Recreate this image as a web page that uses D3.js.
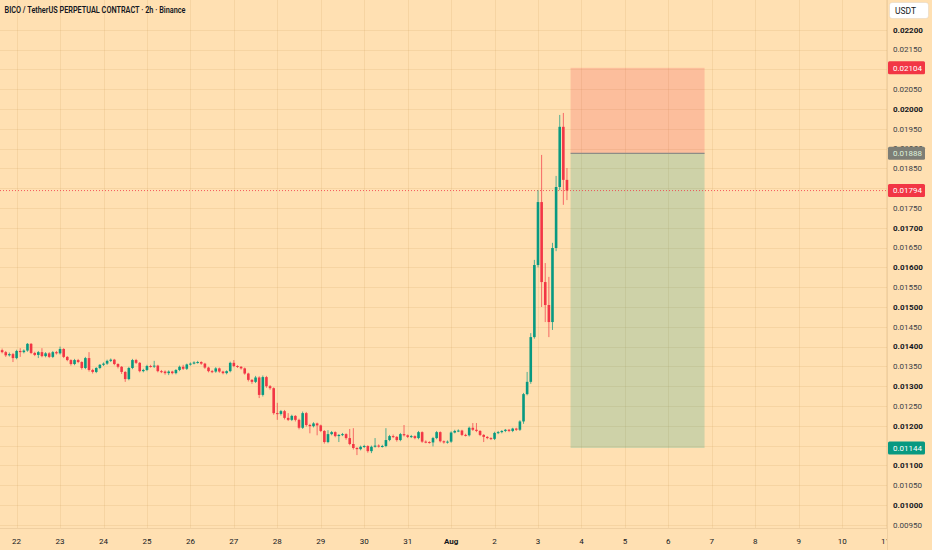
<!DOCTYPE html>
<html>
<head>
<meta charset="utf-8">
<script src="https://cdn.jsdelivr.net/npm/d3@7"></script>
<style>
  html, body { margin: 0; padding: 0; background: #ffe0b2; overflow: hidden; }
  svg { display: block; font-family: Roboto, "Liberation Sans", sans-serif; }
</style>
</head>
<body>
<div id="chart"></div>
<script>
// 2h candles, first bar opens Jul 21 16:00 UTC
var firstTime = Date.UTC(2024, 6, 21, 16);
var barHours = 2;
var firstOpen = 0.01391;

var closes = [
  0.01386,0.01378,0.01381,0.01371,0.01389,0.01386,0.01390,0.01407,0.01384,0.01379,
  0.01386,0.01376,0.01383,0.01374,0.01386,0.01383,0.01394,0.01374,0.01366,0.01356,
  0.01366,0.01361,0.01346,0.01371,0.01341,0.01336,0.01346,0.01354,0.01357,0.01364,
  0.01367,0.01356,0.01349,0.01336,0.01318,0.01346,0.01366,0.01359,0.01338,0.01341,
  0.01351,0.01350,0.01352,0.01338,0.01337,0.01333,0.01337,0.01333,0.01341,0.01349,
  0.01344,0.01355,0.01357,0.01360,0.01361,0.01357,0.01347,0.01338,0.01337,0.01345,
  0.01337,0.01333,0.01338,0.01359,0.01351,0.01349,0.01345,0.01332,0.01316,0.01311,
  0.01322,0.01278,0.01323,0.01300,0.01295,0.01232,0.01230,0.01237,0.01220,0.01215,
  0.01225,0.01215,0.01195,0.01232,0.01202,0.01199,0.01206,0.01201,0.01187,0.01159,
  0.01179,0.01184,0.01174,0.01177,0.01179,0.01169,0.01154,0.01144,0.01141,0.01147,
  0.01149,0.01136,0.01147,0.01150,0.01148,0.01149,0.01164,0.01174,0.01172,0.01164,
  0.01179,0.01176,0.01172,0.01174,0.01169,0.01184,0.01160,0.01159,0.01158,0.01169,
  0.01184,0.01161,0.01158,0.01160,0.01183,0.01187,0.01188,0.01177,0.01176,0.01195,
  0.01190,0.01187,0.01177,0.01172,0.01169,0.01167,0.01182,0.01184,0.01187,0.01190,
  0.01187,0.01193,0.01190,0.01211,0.01280,0.01311,0.01424,0.01606,0.01765,0.01563,
  0.01505,0.01462,0.01649,0.01803,0.01955,0.01821,0.01794
];

var highs = [
  0.01395,0.01389,0.01385,0.01384,0.01392,0.01396,0.01393,0.01409,0.01409,0.01387,
  0.01389,0.01396,0.01386,0.01386,0.01389,0.01389,0.01400,0.01396,0.01376,0.01368,
  0.01369,0.01369,0.01363,0.01374,0.01386,0.01344,0.01348,0.01356,0.01360,0.01367,
  0.01370,0.01369,0.01358,0.01351,0.01338,0.01349,0.01369,0.01369,0.01361,0.01344,
  0.01354,0.01354,0.01364,0.01354,0.01341,0.01340,0.01340,0.01339,0.01343,0.01352,
  0.01354,0.01357,0.01360,0.01363,0.01364,0.01363,0.01359,0.01349,0.01341,0.01348,
  0.01347,0.01339,0.01340,0.01362,0.01366,0.01353,0.01351,0.01347,0.01334,0.01318,
  0.01326,0.01325,0.01327,0.01326,0.01303,0.01297,0.01258,0.01240,0.01240,0.01232,
  0.01228,0.01227,0.01218,0.01236,0.01235,0.01205,0.01209,0.01208,0.01203,0.01189,
  0.01189,0.01187,0.01186,0.01179,0.01182,0.01181,0.01192,0.01194,0.01146,0.01150,
  0.01152,0.01151,0.01150,0.01169,0.01153,0.01152,0.01194,0.01177,0.01178,0.01174,
  0.01182,0.01202,0.01178,0.01177,0.01176,0.01187,0.01186,0.01163,0.01161,0.01172,
  0.01187,0.01186,0.01163,0.01163,0.01186,0.01190,0.01191,0.01190,0.01180,0.01198,
  0.01207,0.01207,0.01189,0.01179,0.01174,0.01171,0.01185,0.01187,0.01189,0.01192,
  0.01192,0.01195,0.01195,0.01214,0.01283,0.01336,0.01434,0.01619,0.01795,0.01884,
  0.01611,0.01576,0.01662,0.01831,0.01985,0.01990,0.01851
];

var lows = [
  0.01383,0.01374,0.01375,0.01361,0.01368,0.01374,0.01383,0.01387,0.01381,0.01376,
  0.01371,0.01373,0.01373,0.01371,0.01371,0.01380,0.01380,0.01371,0.01363,0.01352,
  0.01353,0.01358,0.01342,0.01343,0.01337,0.01332,0.01333,0.01343,0.01351,0.01354,
  0.01361,0.01353,0.01345,0.01331,0.01311,0.01315,0.01343,0.01356,0.01335,0.01335,
  0.01338,0.01347,0.01346,0.01335,0.01333,0.01329,0.01328,0.01330,0.01330,0.01338,
  0.01341,0.01341,0.01352,0.01355,0.01357,0.01354,0.01344,0.01335,0.01333,0.01334,
  0.01334,0.01330,0.01330,0.01335,0.01348,0.01346,0.01342,0.01329,0.01312,0.01306,
  0.01308,0.01270,0.01274,0.01296,0.01291,0.01228,0.01215,0.01226,0.01216,0.01212,
  0.01212,0.01211,0.01191,0.01192,0.01198,0.01181,0.01196,0.01176,0.01184,0.01155,
  0.01156,0.01176,0.01171,0.01159,0.01174,0.01165,0.01151,0.01140,0.01126,0.01138,
  0.01144,0.01132,0.01131,0.01145,0.01145,0.01145,0.01146,0.01161,0.01169,0.01160,
  0.01161,0.01173,0.01169,0.01169,0.01166,0.01166,0.01157,0.01156,0.01155,0.01148,
  0.01166,0.01158,0.01155,0.01155,0.01157,0.01181,0.01184,0.01174,0.01173,0.01173,
  0.01187,0.01184,0.01174,0.01159,0.01166,0.01164,0.01164,0.01179,0.01181,0.01184,
  0.01184,0.01184,0.01187,0.01187,0.01205,0.01277,0.01306,0.01420,0.01600,0.01500,
  0.01462,0.01424,0.01442,0.01641,0.01795,0.01758,0.01770
];

var priceTicks = [0.0095,0.0100,0.0105,0.0110,0.0115,0.0120,0.0125,0.0130,0.0135,
  0.0140,0.0145,0.0150,0.0155,0.0160,0.0165,0.0170,0.0175,0.0180,0.0185,0.0190,
  0.0195,0.0200,0.0205,0.0210,0.0215,0.0220];
var dayLabels = ["22","23","24","25","26","27","28","29","30","31","Aug",
  "2","3","4","5","6","7","8","9","10","11"];

// long/short position tool
var stopLoss = 0.02104, entry = 0.01888, takeProfit = 0.01144, lastPrice = 0.01794;
var posStart = Date.UTC(2024, 7, 3, 18), posEnd = Date.UTC(2024, 7, 6, 20);

var title = "BICO / TetherUS PERPETUAL CONTRACT \u00b7 2h \u00b7 Binance";

var W = 932, H = 550, plotRight = 887, timeTop = 528;
var upColor = "#089981", downColor = "#f23645";
var gridColor = "rgba(200,150,80,0.16)";

var candles = closes.map(function(c, i) {
  return {
    t: new Date(firstTime + i * barHours * 3600e3),
    o: i === 0 ? firstOpen : closes[i - 1],
    h: highs[i], l: lows[i], c: c
  };
});

var x = d3.scaleUtc()
  .domain([new Date(Date.UTC(2024, 6, 22)), new Date(Date.UTC(2024, 7, 3))])
  .range([16.6, 538]);
var y = d3.scaleLinear().domain([0.0095, 0.022]).range([524.8, 29.8]);
var days = d3.utcDay.range(new Date(Date.UTC(2024, 6, 22)), new Date(Date.UTC(2024, 7, 12)));

var svg = d3.select("#chart").append("svg").attr("width", W).attr("height", H);
svg.append("rect").attr("width", W).attr("height", H).attr("fill", "#ffe0b2");

svg.append("clipPath").attr("id", "plotClip")
  .append("rect").attr("width", plotRight).attr("height", timeTop);
svg.append("clipPath").attr("id", "plotClip2")
  .append("rect").attr("width", plotRight).attr("height", H);

// grid
var grid = svg.append("g").attr("clip-path", "url(#plotClip)");
grid.selectAll(".hg").data(priceTicks).enter().append("line")
  .attr("x1", 0).attr("x2", plotRight)
  .attr("y1", function(d) { return Math.round(y(d)) + 0.5; })
  .attr("y2", function(d) { return Math.round(y(d)) + 0.5; })
  .attr("stroke", gridColor);
grid.selectAll(".vg").data(days).enter().append("line")
  .attr("x1", function(d) { return Math.round(x(d)) + 0.5; })
  .attr("x2", function(d) { return Math.round(x(d)) + 0.5; })
  .attr("y1", 0).attr("y2", timeTop)
  .attr("stroke", gridColor);

// position zones
var plot = svg.append("g").attr("clip-path", "url(#plotClip)");
plot.append("rect")
  .attr("x", x(posStart)).attr("width", x(posEnd) - x(posStart))
  .attr("y", y(stopLoss)).attr("height", y(entry) - y(stopLoss))
  .attr("fill", "rgba(242,54,69,0.2)");
plot.append("rect")
  .attr("x", x(posStart)).attr("width", x(posEnd) - x(posStart))
  .attr("y", y(entry)).attr("height", y(takeProfit) - y(entry))
  .attr("fill", "rgba(8,153,129,0.2)");
plot.append("line")
  .attr("x1", x(posStart)).attr("x2", x(posEnd))
  .attr("y1", y(entry)).attr("y2", y(entry))
  .attr("stroke", "#8d8d86").attr("stroke-width", 1.2);

// last price dotted line
plot.append("line")
  .attr("x1", 0).attr("x2", plotRight)
  .attr("y1", y(lastPrice)).attr("y2", y(lastPrice))
  .attr("stroke", downColor).attr("stroke-opacity", 0.8)
  .attr("stroke-dasharray", "1,2");

// candles
var bodyW = 2.6;
var bars = plot.selectAll(".candle").data(candles).enter().append("g");
bars.append("line")
  .attr("x1", function(d) { return x(d.t); })
  .attr("x2", function(d) { return x(d.t); })
  .attr("y1", function(d) { return y(d.h); })
  .attr("y2", function(d) { return y(d.l); })
  .attr("stroke", function(d) { return d.c >= d.o ? upColor : downColor; })
  .attr("stroke-opacity", 0.7)
  .attr("stroke-width", 1);
bars.append("rect")
  .attr("x", function(d) { return x(d.t) - bodyW / 2; })
  .attr("width", bodyW)
  .attr("y", function(d) { return y(Math.max(d.o, d.c)); })
  .attr("height", function(d) { return Math.max(1, Math.abs(y(d.o) - y(d.c))); })
  .attr("fill", function(d) { return d.c >= d.o ? upColor : downColor; });

// panel separators
svg.append("line").attr("x1", plotRight + 0.5).attr("x2", plotRight + 0.5)
  .attr("y1", 0).attr("y2", H).attr("stroke", "rgba(120,90,40,0.12)");
svg.append("line").attr("x1", 0).attr("x2", plotRight)
  .attr("y1", timeTop + 0.5).attr("y2", timeTop + 0.5).attr("stroke", "rgba(120,90,40,0.12)");

// price tags
var tags = [
  { v: stopLoss, bg: "#f23645", fg: "#ffffff" },
  { v: entry, bg: "#7d7e76", fg: "#dff2dc" },
  { v: lastPrice, bg: "#f23645", fg: "#ffffff" },
  { v: takeProfit, bg: "#089981", fg: "#ffffff" }
];

// price axis labels (ones fully hidden under a tag are skipped)
var isRound = function(d) { return Math.abs(d * 1000 - Math.round(d * 1000)) < 1e-6; };
var axisTicks = priceTicks.filter(function(d) {
  return !tags.some(function(t) { return Math.abs(y(t.v) - y(d)) < 7; });
});
svg.append("g").selectAll("text").data(axisTicks).enter().append("text")
  .attr("x", 893).attr("y", function(d) { return y(d); })
  .attr("dy", "0.35em")
  .attr("font-size", 8)
  .attr("font-weight", function(d) { return isRound(d) ? 700 : 400; })
  .attr("fill", function(d) { return isRound(d) ? "#131722" : "#3b3e48"; })
  .text(function(d) { return d3.format(".5f")(d); });
// 0.01900 peeks out just above the entry tag
svg.append("clipPath").attr("id", "peekClip")
  .append("rect").attr("x", 888).attr("y", 0).attr("width", 44).attr("height", y(entry) - 6.5);
svg.append("text").attr("clip-path", "url(#peekClip)")
  .attr("x", 893).attr("y", y(0.019)).attr("dy", "0.35em")
  .attr("font-size", 8).attr("font-weight", 700).attr("fill", "#131722")
  .text(d3.format(".5f")(0.019));

var tg = svg.append("g").selectAll("g").data(tags).enter().append("g");
tg.append("rect")
  .attr("x", 888).attr("width", 37)
  .attr("y", function(d) { return y(d.v) - 6.5; }).attr("height", 13)
  .attr("rx", 1.5)
  .attr("fill", function(d) { return d.bg; });
tg.append("text")
  .attr("x", 893).attr("y", function(d) { return y(d.v); })
  .attr("dy", "0.35em").attr("font-size", 8)
  .attr("fill", function(d) { return d.fg; })
  .text(function(d) { return d3.format(".5f")(d.v); });

// currency box
svg.append("rect").attr("x", 889.5).attr("y", 2.5).attr("width", 39).attr("height", 16)
  .attr("rx", 3).attr("fill", "#ffffff").attr("stroke", "rgba(0,0,0,0.06)");
svg.append("text").attr("x", 895).attr("y", 10.8).attr("dy", "0.35em")
  .attr("font-size", 8.5).attr("fill", "#131722").text("USDT");

// time axis labels
var timeAxis = svg.append("g").attr("clip-path", "url(#plotClip2)");
timeAxis.selectAll("text").data(days).enter().append("text")
  .attr("x", function(d) { return x(d); })
  .attr("y", 541).attr("dy", "0.35em")
  .attr("text-anchor", "middle")
  .attr("font-size", 8)
  .attr("font-weight", function(d, i) { return dayLabels[i] === "Aug" ? 700 : 400; })
  .attr("fill", "#131722")
  .text(function(d, i) { return dayLabels[i]; });

// title
svg.append("text").attr("x", 4.5).attr("y", 10).attr("dy", "0.35em")
  .attr("font-size", 9).attr("font-weight", 600).attr("fill", "#131722")
  .attr("textLength", 181).attr("lengthAdjust", "spacingAndGlyphs")
  .text(title);
</script>
</body>
</html>
